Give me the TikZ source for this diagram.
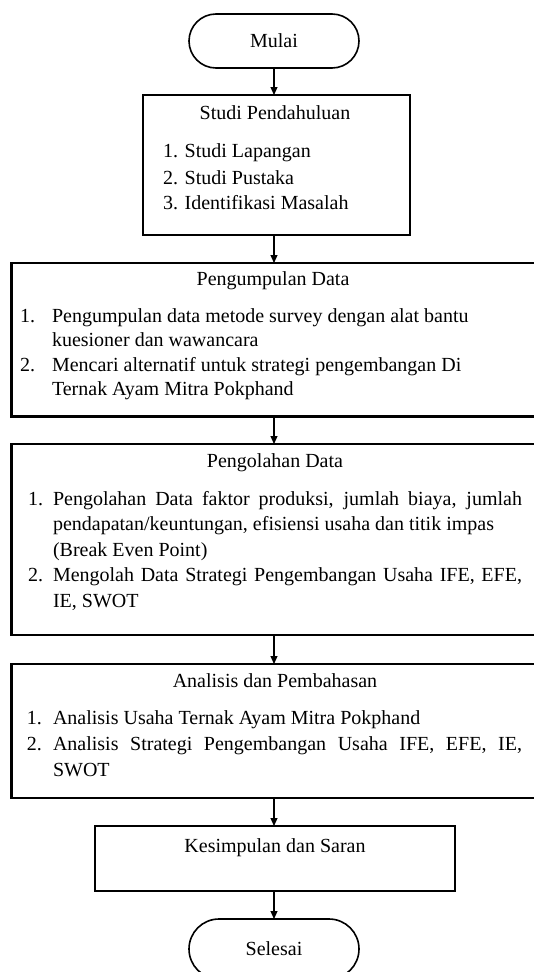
\documentclass[tikz,border=0pt]{standalone}
\usepackage{fontspec}
\setmainfont{Liberation Serif}
\usetikzlibrary{arrows.meta,shapes.misc}
\begin{document}
\begin{tikzpicture}[x=1pt,y=-1pt,
  every node/.style={inner sep=0pt, outer sep=0pt},
  fnt/.style={font=\fontsize{20}{25}\selectfont},
  boxn/.style={draw, line width=2.6pt},
  termn/.style={draw, line width=1.6pt, rounded rectangle, minimum width=170pt, minimum height=54pt, fnt},
  txt/.style={fnt, anchor=mid west},
  ttl/.style={fnt, anchor=mid},
  arr/.style={-{Triangle[length=8pt,width=7pt]}, line width=1.1pt}]
\useasboundingbox (0,0) rectangle (534,972);
\clip (0,0) rectangle (534,972);

% boxes
\node[termn] (mulai) at (274,41) {Mulai};
\node[boxn, minimum width=267pt, minimum height=140pt] (studi) at (276.5,165) {};
\node[boxn, minimum width=540pt, minimum height=153.5pt] (kumpul) at (281.5,339.75) {};
\node[boxn, minimum width=540pt, minimum height=191pt] (olah) at (281.5,539.5) {};
\node[boxn, minimum width=540pt, minimum height=134pt] (anal) at (281.5,731) {};
\node[boxn, minimum width=360pt, minimum height=65pt] (simp) at (275,858.5) {};
\node[termn, minimum height=60pt] (selesai) at (274,949) {Selesai};

% arrows
\draw[arr] (mulai.south) -- (mulai.south |- studi.north);
\draw[arr] (studi.south -| mulai.south) -- (kumpul.north -| mulai.south);
\draw[arr] (kumpul.south -| mulai.south) -- (olah.north -| mulai.south);
\draw[arr] (olah.south -| mulai.south) -- (anal.north -| mulai.south);
\draw[arr] (anal.south -| mulai.south) -- (simp.north -| mulai.south);
\draw[arr] (simp.south -| mulai.south) -- (selesai.north);

% Studi Pendahuluan
\node[ttl] (t1) at (275,117) {Studi Pendahuluan};
\node[txt] (s1) at (163,155) {1. Studi Lapangan};
\node[txt] (s2) at (163,182) {2. Studi Pustaka};
\node[txt] (s3) at (163,207) {3. Identifikasi Masalah};

% Pengumpulan Data
\node[ttl] (t2) at (273,283) {Pengumpulan Data};
\node[txt] (k1n) at (20,320) {1.};
\node[txt] (k1a) at (52,320) {Pengumpulan data metode survey dengan alat bantu};
\node[txt] (k1b) at (52,344.5) {kuesioner dan wawancara};
\node[txt] (k2n) at (20,369) {2.};
\node[txt] (k2a) at (52,369) {Mencari alternatif untuk strategi pengembangan Di};
\node[txt] (k2b) at (52,393.5) {Ternak Ayam Mitra Pokphand};

% Pengolahan Data
\node[ttl] (t3) at (275,465) {Pengolahan Data};
\node[txt] (o1n) at (28,503) {1.};
\node[txt] (o1a) at (53,503) {\makebox[469pt][s]{Pengolahan Data faktor produksi, jumlah biaya, jumlah}};
\node[txt] (o1b) at (53,528) {pendapatan/keuntungan, efisiensi usaha dan titik impas};
\node[txt] (o1c) at (53,554) {(Break Even Point)};
\node[txt] (o2n) at (28,579) {2.};
\node[txt] (o2a) at (53,579) {\makebox[469pt][s]{Mengolah Data Strategi Pengembangan Usaha IFE, EFE,}};
\node[txt] (o2b) at (53,605) {IE, SWOT};

% Analisis dan Pembahasan
\node[ttl] (t4) at (275,685) {Analisis dan Pembahasan};
\node[txt] (a1n) at (27,722) {1.};
\node[txt] (a1a) at (53,722) {Analisis Usaha Ternak Ayam Mitra Pokphand};
\node[txt] (a2n) at (27,748) {2.};
\node[txt] (a2a) at (53,748) {\makebox[469pt][s]{Analisis Strategi Pengembangan Usaha IFE, EFE, IE,}};
\node[txt] (a2b) at (53,774) {SWOT};

% Kesimpulan
\node[ttl] (t5) at (275,850) {Kesimpulan dan Saran};
\end{tikzpicture}
\end{document}
